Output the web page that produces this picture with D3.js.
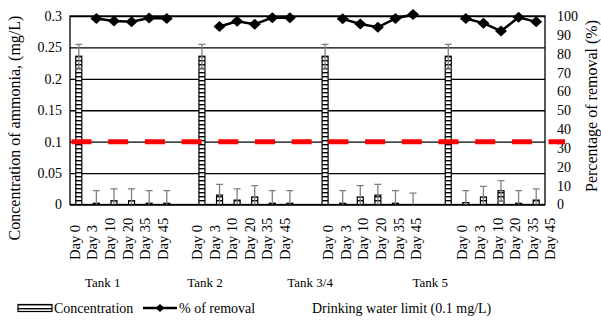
<!DOCTYPE html>
<html>
<head>
<meta charset="utf-8">
<script src="https://cdn.jsdelivr.net/npm/d3@7"></script>
<style>
  html, body { margin: 0; padding: 0; background: #fff; }
  svg { display: block; font-family: "Liberation Serif", "Times New Roman", serif; }
</style>
</head>
<body>
<svg id="chart" width="601" height="327"></svg>
<script>
// ---- data ----
const tanks = ["Tank 1", "Tank 2", "Tank 3/4", "Tank 5"];
const days = ["Day 0", "Day 3", "Day 10", "Day 20", "Day 35", "Day 45"];

// ammonia concentration (mg/L) per tank, one value per sampling day
const concentration = [
  [0.236, 0.002, 0.006, 0.006, 0.002, 0.002],
  [0.236, 0.015, 0.007, 0.012, 0.002, 0.002],
  [0.236, 0.002, 0.012, 0.015, 0.002, 0.000],
  [0.236, 0.003, 0.012, 0.022, 0.002, 0.007]
];
// standard deviation of the concentration
const concentrationError = [
  [0.019, 0.020, 0.019, 0.019, 0.020, 0.020],
  [0.019, 0.017, 0.018, 0.018, 0.020, 0.020],
  [0.019, 0.020, 0.018, 0.017, 0.020, 0.018],
  [0.019, 0.019, 0.017, 0.016, 0.020, 0.018]
];
// percentage of ammonia removed (no value on Day 0)
const removal = [
  [null, 98.7, 97.4, 96.9, 98.9, 98.7],
  [null, 94.4, 97.2, 95.6, 99.1, 99.1],
  [null, 98.5, 95.8, 94.0, 98.7, 100.8],
  [null, 98.7, 96.2, 92.0, 99.3, 96.9]
];
const drinkingWaterLimit = 0.1;
const concentrationTicks = [0, 0.05, 0.1, 0.15, 0.2, 0.25, 0.3];
const removalTicks = [0, 10, 20, 30, 40, 50, 60, 70, 80, 90, 100];

// ---- layout ----
const plot = { left: 70, right: 545, top: 16, bottom: 204.5 };
const dayLabelShift = [-4, -5, 3, 14];      // nudges for the day label columns
const tankLabelShift = [-20, -41, -59, -62]; // nudges for the tank names
const serif = '"Liberation Serif", "Times New Roman", serif';

const svg = d3.select("#chart");

// one band per sampling day, with an empty band between tanks
const keys = [];
tanks.forEach((t, i) => {
  days.forEach(d => keys.push(t + "|" + d));
  if (i < tanks.length - 1) keys.push("gap" + i);
});
const x = d3.scaleBand().domain(keys).range([plot.left, plot.right]);
const bw = x.bandwidth();
const cx = (t, d) => x(t + "|" + d) + bw / 2;

const y = d3.scaleLinear().domain([0, 0.3]).range([plot.bottom, plot.top]);
const y2 = d3.scaleLinear().domain([0, 100]).range([plot.bottom, plot.top]);

// ladder hatch for the concentration bars
const defs = svg.append("defs");
const pat = defs.append("pattern")
  .attr("id", "ladder")
  .attr("patternUnits", "userSpaceOnUse")
  .attr("width", 8).attr("height", 4);
pat.append("rect").attr("width", 8).attr("height", 4).attr("fill", "#fff");
pat.append("rect").attr("width", 8).attr("height", 1.4).attr("fill", "#000");

defs.append("clipPath").attr("id", "plotClip")
  .append("rect")
  .attr("x", plot.left).attr("y", plot.top - 2)
  .attr("width", plot.right - plot.left).attr("height", plot.bottom - plot.top + 2);

// left axis with full-width gridlines
const leftAxis = svg.append("g")
  .attr("transform", `translate(${plot.left},0)`)
  .call(d3.axisLeft(y)
    .tickValues(concentrationTicks)
    .tickSize(-(plot.right - plot.left))
    .tickPadding(8)
    .tickFormat(d3.format("~g")));
leftAxis.attr("font-family", null);
leftAxis.select(".domain").remove();
leftAxis.selectAll(".tick line").attr("stroke", "#000").attr("stroke-width", 1.3);
leftAxis.selectAll(".tick text")
  .attr("fill", "#000").style("font-family", serif).style("font-size", "14px");

// right axis for removal percentage
const rightAxis = svg.append("g")
  .attr("transform", `translate(${plot.right},0)`)
  .call(d3.axisRight(y2).tickValues(removalTicks).tickSize(0).tickPadding(12));
rightAxis.attr("font-family", null);
rightAxis.select(".domain").remove();
rightAxis.selectAll(".tick text")
  .attr("fill", "#000").style("font-family", serif).style("font-size", "14px");

// plot frame
svg.append("rect")
  .attr("x", plot.left).attr("y", plot.top)
  .attr("width", plot.right - plot.left).attr("height", plot.bottom - plot.top)
  .attr("fill", "none").attr("stroke", "#000").attr("stroke-width", 1.3);

// flatten concentration values for drawing
const barData = [];
tanks.forEach((t, i) => days.forEach((d, j) => barData.push({
  tank: t, day: d, value: concentration[i][j], err: concentrationError[i][j]
})));

const barW = 6;
const clipped = svg.append("g").attr("clip-path", "url(#plotClip)");

clipped.selectAll("rect.bar")
  .data(barData.filter(b => b.value > 0))
  .join("rect")
  .attr("class", "bar")
  .attr("x", b => cx(b.tank, b.day) - barW / 2)
  .attr("y", b => y(b.value))
  .attr("width", barW)
  .attr("height", b => y(0) - y(b.value))
  .attr("fill", "url(#ladder)")
  .attr("stroke", "#000")
  .attr("stroke-width", 1.2);

// error bars
const capW = 7;
const eb = clipped.selectAll("g.err").data(barData).join("g")
  .attr("class", "err")
  .attr("stroke", "#808080").attr("stroke-width", 1.3);
eb.append("line")
  .attr("x1", b => cx(b.tank, b.day)).attr("x2", b => cx(b.tank, b.day))
  .attr("y1", b => y(b.value + b.err)).attr("y2", b => y(b.value - b.err));
eb.append("line")
  .attr("x1", b => cx(b.tank, b.day) - capW / 2).attr("x2", b => cx(b.tank, b.day) + capW / 2)
  .attr("y1", b => y(b.value + b.err)).attr("y2", b => y(b.value + b.err));
eb.append("line")
  .attr("x1", b => cx(b.tank, b.day) - capW / 2).attr("x2", b => cx(b.tank, b.day) + capW / 2)
  .attr("y1", b => y(b.value - b.err)).attr("y2", b => y(b.value - b.err));

// drinking water limit
svg.append("line")
  .attr("x1", plot.left + 1.5).attr("x2", plot.right + 20)
  .attr("y1", y(drinkingWaterLimit)).attr("y2", y(drinkingWaterLimit))
  .attr("stroke", "#ff0000").attr("stroke-width", 5)
  .attr("stroke-dasharray", "20,16.7");

// removal lines, one per tank
const diamond = (w, h) => `M0,${-h}L${w},0L0,${h}L${-w},0Z`;
const line = d3.line()
  .defined(p => p.v != null)
  .x(p => cx(p.tank, p.day))
  .y(p => y2(p.v));
tanks.forEach((t, i) => {
  const pts = days.map((d, j) => ({ tank: t, day: d, v: removal[i][j] }));
  svg.append("path")
    .datum(pts)
    .attr("d", line)
    .attr("fill", "none").attr("stroke", "#000").attr("stroke-width", 2.5);
  svg.selectAll(null)
    .data(pts.filter(p => p.v != null))
    .join("path")
    .attr("transform", p => `translate(${cx(p.tank, p.day)},${y2(p.v)})`)
    .attr("d", diamond(6, 5.5))
    .attr("fill", "#000");
});

// day labels, bottom-aligned and reading upwards
tanks.forEach((t, i) => {
  days.forEach(d => {
    svg.append("text")
      .attr("transform", `translate(${cx(t, d) + dayLabelShift[i]},260) rotate(-90)`)
      .attr("text-anchor", "start")
      .attr("dy", "0.35em")
      .style("font-size", "14.5px")
      .attr("fill", "#000")
      .text(d);
  });
  // tank name under each group
  const mid = (cx(t, days[0]) + cx(t, days[days.length - 1])) / 2;
  svg.append("text")
    .attr("x", mid + tankLabelShift[i]).attr("y", 287)
    .attr("text-anchor", "middle")
    .style("font-size", "13px")
    .attr("fill", "#000")
    .text(t);
});

// axis titles
svg.append("text")
  .attr("transform", "translate(20,128) rotate(-90)")
  .attr("text-anchor", "middle")
  .style("font-size", "16px")
  .attr("fill", "#000")
  .text("Concentration of ammonia, (mg/L)");
svg.append("text")
  .attr("transform", "translate(597,106) rotate(-90)")
  .attr("text-anchor", "middle")
  .style("font-size", "16px")
  .attr("fill", "#000")
  .text("Percentage of removal (%)");

// legend
const lg = svg.append("g").style("font-size", "14px").attr("fill", "#000");
lg.append("rect")
  .attr("x", 18).attr("y", 304.5).attr("width", 34).attr("height", 7)
  .attr("fill", "url(#ladder)").attr("stroke", "#000").attr("stroke-width", 1.2);
lg.append("text").attr("x", 54).attr("y", 313).text("Concentration");
lg.append("line")
  .attr("x1", 143).attr("x2", 177).attr("y1", 308).attr("y2", 308)
  .attr("stroke", "#000").attr("stroke-width", 2.5);
lg.append("path")
  .attr("transform", "translate(160,308)")
  .attr("d", diamond(4.5, 4))
  .attr("fill", "#000");
lg.append("text").attr("x", 179).attr("y", 313).text("% of removal");
lg.append("text").attr("x", 312).attr("y", 313).text("Drinking water limit (0.1 mg/L)");
</script>
</body>
</html>
